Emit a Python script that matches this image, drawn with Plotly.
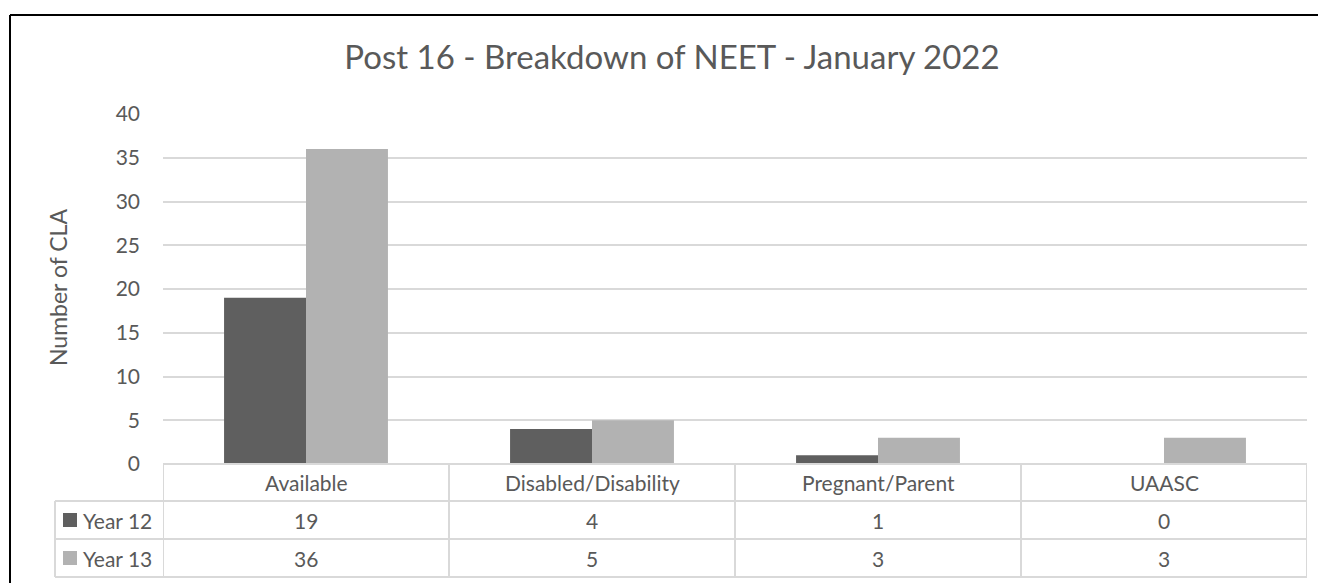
import plotly.graph_objects as go

categories = ["Available", "Disabled/Disability", "Pregnant/Parent", "UAASC"]
series_names = ["Year 12", "Year 13"]
year12 = [19, 4, 1, 0]
year13 = [36, 5, 3, 3]
series_values = [year12, year13]
series_colors = ["#5f5f5f", "#b2b2b2"]
y_ticks = [0, 5, 10, 15, 20, 25, 30, 35, 40]
title_text = "Post 16 - Breakdown of NEET - January 2022"
y_title = "Number of CLA"

W, H = 1326, 583
OFF = 8  # page body margin
L, R, T, B = 163 - OFF, 1307 - OFF, 114 - OFF, 464 - OFF  # plot area in figure px
TXT = "#595959"
GRID = "#d9d9d9"
FONT = "Lato"


def px_x(px):  # px given in screen coordinates
    return (px - OFF - L) / (R - L)


def px_y(py):
    return (B - (py - OFF)) / (B - T)


fig = go.Figure()
for name, vals, col in zip(series_names, series_values, series_colors):
    fig.add_trace(go.Bar(x=categories, y=vals, name=name, marker=dict(color=col, line=dict(width=0)),
                         showlegend=False))

shapes = []
annotations = []

row_tops = [464, 501, 539, 577]
line_style = dict(color=GRID, width=2)
shapes.append(dict(type="line", xref="paper", yref="paper", x0=0, x1=1,
                   y0=px_y(row_tops[0]), y1=px_y(row_tops[0]), line=line_style))
for py in row_tops[1:]:
    shapes.append(dict(type="line", xref="paper", yref="paper", x0=px_x(55), x1=1,
                       y0=px_y(py), y1=px_y(py), line=line_style))
shapes.append(dict(type="line", xref="paper", yref="paper", x0=px_x(55), x1=px_x(55),
                   y0=px_y(row_tops[1]), y1=px_y(row_tops[3]), line=line_style))
for i in range(len(categories) + 1):
    shapes.append(dict(type="line", xref="x", yref="paper", x0=i - 0.5, x1=i - 0.5,
                       y0=px_y(row_tops[0]), y1=px_y(row_tops[3]), line=line_style))

cat_y = px_y((row_tops[0] + row_tops[1]) / 2)
for c in categories:
    annotations.append(dict(x=c, y=cat_y, xref="x", yref="paper", text=c, showarrow=False,
                            font=dict(family=FONT, size=21, color=TXT), xanchor="center", yanchor="middle"))

for r, (name, vals, col) in enumerate(zip(series_names, series_values, series_colors)):
    top, bot = row_tops[r + 1], row_tops[r + 2]
    ym = px_y((top + bot) / 2)
    for c, v in zip(categories, vals):
        annotations.append(dict(x=c, y=ym, xref="x", yref="paper", text=str(v), showarrow=False,
                                font=dict(family=FONT, size=21, color=TXT), xanchor="center", yanchor="middle"))
    cy = (top + bot) / 2
    shapes.append(dict(type="rect", xref="paper", yref="paper", x0=px_x(63), x1=px_x(77),
                       y0=px_y(cy + 7), y1=px_y(cy - 7), fillcolor=col, line=dict(width=0)))
    annotations.append(dict(x=px_x(81), y=ym, xref="paper", yref="paper", text=name, showarrow=False,
                            font=dict(family=FONT, size=21, color=TXT), xanchor="left", yanchor="middle"))

annotations.append(dict(x=px_x(58), y=px_y(288), xref="paper", yref="paper", text=y_title, showarrow=False,
                        textangle=-90, font=dict(family=FONT, size=23, color=TXT),
                        xanchor="center", yanchor="middle"))

border = dict(color="#000000", width=2)
shapes.append(dict(type="line", xref="paper", yref="paper", x0=px_x(10), x1=px_x(W + 20),
                   y0=px_y(15), y1=px_y(15), line=border))
shapes.append(dict(type="line", xref="paper", yref="paper", x0=px_x(10), x1=px_x(10),
                   y0=px_y(15), y1=px_y(H + 20), line=border))

fig.update_layout(
    width=W, height=H,
    margin=dict(l=L, r=W - R, t=T, b=H - B, pad=0),
    paper_bgcolor="white", plot_bgcolor="white",
    barmode="group", bargap=0.427, bargroupgap=0,
    title=dict(text=title_text, x=(672 - OFF) / W, xanchor="center", xref="container",
               y=1 - (57.5 - OFF) / H, yref="container", yanchor="middle",
               font=dict(family=FONT, size=33, color=TXT)),
    xaxis=dict(showticklabels=False, showgrid=False, zeroline=False, showline=False, ticks="",
               range=[-0.5, len(categories) - 0.5]),
    yaxis=dict(range=[0, 40], tickvals=y_ticks, showgrid=True, gridcolor=GRID, gridwidth=2,
               zeroline=False, showline=False, ticks="", ticklabelstandoff=22,
               tickfont=dict(family=FONT, size=21, color=TXT)),
    shapes=shapes, annotations=annotations,
)

fig.write_html("out.html")
